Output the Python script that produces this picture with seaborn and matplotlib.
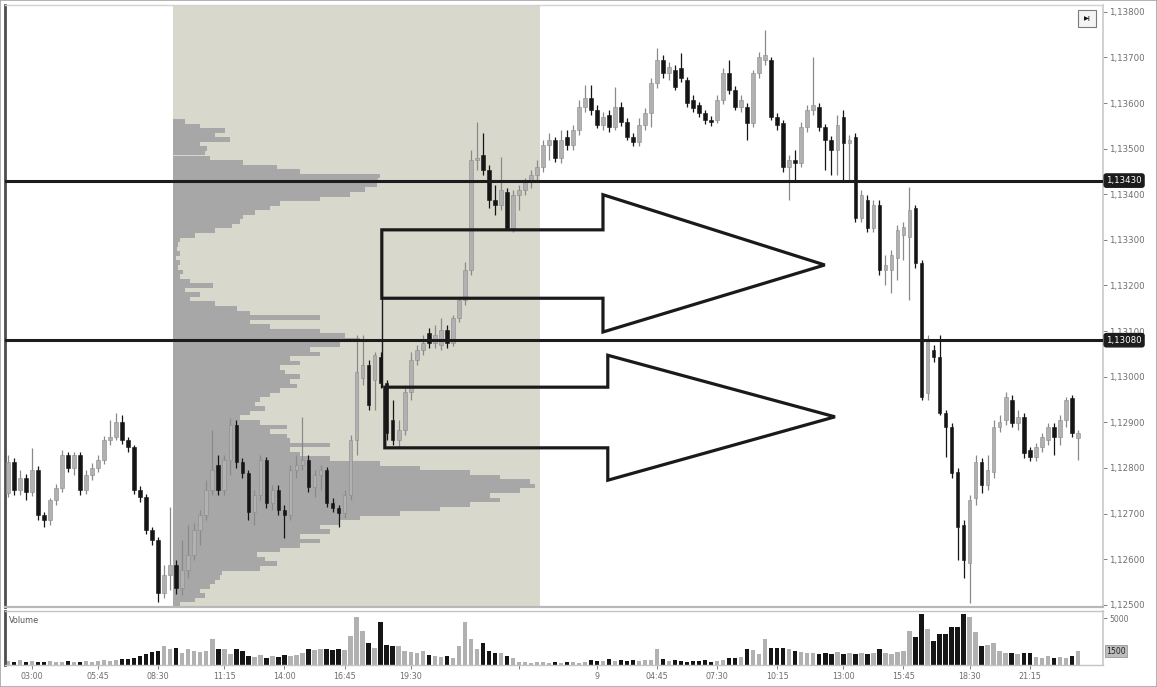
import numpy as np
import pandas as pd
import matplotlib
matplotlib.use("Agg")
import matplotlib.pyplot as plt
import matplotlib.transforms as mtransforms
from matplotlib.patches import Polygon, Rectangle
from matplotlib.ticker import FuncFormatter
import seaborn as sns

# ---------------------------------------------------------------- data
opens = [
    1.12745, 1.12813, 1.12751, 1.12778, 1.12747, 1.12795, 1.12697, 1.12686, 1.12730, 1.12756,
    1.12828, 1.12800, 1.12828, 1.12751, 1.12784, 1.12800, 1.12817, 1.12861, 1.12868, 1.12901,
    1.12861, 1.12846, 1.12751, 1.12736, 1.12664, 1.12642, 1.12526, 1.12565, 1.12587, 1.12537,
    1.12576, 1.12609, 1.12664, 1.12697, 1.12751, 1.12806, 1.12751, 1.12817, 1.12894, 1.12813,
    1.12789, 1.12703, 1.12740, 1.12817, 1.12723, 1.12751, 1.12708, 1.12697, 1.12795, 1.12806,
    1.12817, 1.12758, 1.12784, 1.12795, 1.12723, 1.12712, 1.12701, 1.12740, 1.12861, 1.12997,
    1.13026, 1.12993, 1.13043, 1.12986, 1.12905, 1.12861, 1.12883, 1.12966, 1.13037, 1.13058,
    1.13096, 1.13074, 1.13069, 1.13102, 1.13074, 1.13129, 1.13168, 1.13234, 1.13475, 1.13486,
    1.13453, 1.13387, 1.13376, 1.13405, 1.13326, 1.13398, 1.13409, 1.13427, 1.13442, 1.13460,
    1.13508, 1.13519, 1.13480, 1.13526, 1.13508, 1.13541, 1.13591, 1.13611, 1.13585, 1.13552,
    1.13574, 1.13548, 1.13591, 1.13558, 1.13526, 1.13515, 1.13552, 1.13578, 1.13644, 1.13694,
    1.13666, 1.13672, 1.13677, 1.13651, 1.13607, 1.13596, 1.13578, 1.13563,
    1.13563, 1.13607, 1.13666, 1.13629, 1.13591, 1.13591, 1.13556, 1.13666, 1.13694, 1.13694,
    1.13569, 1.13556, 1.13460, 1.13475,
    1.13469, 1.13548, 1.13585, 1.13591, 1.13548, 1.13519, 1.13497, 1.13569, 1.13512, 1.13526,
    1.13348, 1.13387, 1.13326, 1.13376, 1.13234,
    1.13234, 1.13260, 1.13311, 1.13306, 1.13370, 1.13249, 1.12964, 1.13058, 1.13043, 1.12920,
    1.12890, 1.12791, 1.12675, 1.12591, 1.12734, 1.12813, 1.12762, 1.12791, 1.12890, 1.12905,
    1.12949, 1.12898,
    1.12911, 1.12839, 1.12824, 1.12846, 1.12861, 1.12890, 1.12868, 1.12905, 1.12953, 1.12866,
]
closes = [
    1.12813, 1.12751, 1.12778, 1.12747, 1.12795, 1.12697, 1.12686, 1.12730, 1.12756, 1.12828,
    1.12800, 1.12828, 1.12751, 1.12784, 1.12800, 1.12817, 1.12861, 1.12868, 1.12901, 1.12861,
    1.12846, 1.12751, 1.12736, 1.12664, 1.12642, 1.12526, 1.12565, 1.12587, 1.12537, 1.12576,
    1.12609, 1.12664, 1.12697, 1.12751, 1.12795, 1.12751, 1.12817, 1.12894, 1.12813, 1.12789,
    1.12703, 1.12740, 1.12817, 1.12723, 1.12751, 1.12708, 1.12697, 1.12795, 1.12806, 1.12817,
    1.12758, 1.12784, 1.12795, 1.12723, 1.12712, 1.12701, 1.12740, 1.12861, 1.13010, 1.13026,
    1.12938, 1.13047, 1.12986, 1.12876, 1.12861, 1.12883, 1.12966, 1.13037, 1.13058, 1.13074,
    1.13074, 1.13091, 1.13102, 1.13074, 1.13129, 1.13168, 1.13234, 1.13475, 1.13480, 1.13453,
    1.13387, 1.13376, 1.13409, 1.13326, 1.13398, 1.13409, 1.13427, 1.13442, 1.13460, 1.13508,
    1.13519, 1.13480, 1.13519, 1.13508, 1.13541, 1.13591, 1.13611, 1.13585, 1.13552, 1.13569,
    1.13548, 1.13591, 1.13558, 1.13526, 1.13515, 1.13552, 1.13578, 1.13644, 1.13694, 1.13666,
    1.13679, 1.13635, 1.13655, 1.13600, 1.13589, 1.13578, 1.13563, 1.13558,
    1.13607, 1.13666, 1.13629, 1.13591, 1.13607, 1.13556, 1.13666, 1.13701, 1.13705, 1.13569,
    1.13552, 1.13460, 1.13475, 1.13469,
    1.13548, 1.13585, 1.13596, 1.13548, 1.13519, 1.13497, 1.13552, 1.13512, 1.13519, 1.13348,
    1.13398, 1.13326, 1.13376, 1.13234, 1.13245,
    1.13267, 1.13322, 1.13328, 1.13366, 1.13249, 1.12955, 1.13080, 1.13043, 1.12920, 1.12890,
    1.12789, 1.12670, 1.12598, 1.12730, 1.12813, 1.12762, 1.12795, 1.12890, 1.12901, 1.12955,
    1.12898, 1.12911,
    1.12833, 1.12824, 1.12846, 1.12868, 1.12890, 1.12868, 1.12905, 1.12949, 1.12876, 1.12876,
]
highs = [
    1.12828, 1.12822, 1.12795, 1.12787, 1.12844, 1.12804, 1.12703, 1.12734, 1.12765, 1.12839,
    1.12835, 1.12835, 1.12835, 1.12795, 1.12811, 1.12828, 1.12870, 1.12905, 1.12920, 1.12916,
    1.12868, 1.12850, 1.12760, 1.12743, 1.12670, 1.12648, 1.12587, 1.12714, 1.12598, 1.12642,
    1.12675, 1.12679, 1.12708, 1.12773, 1.12883, 1.12828, 1.12828, 1.12909, 1.12905, 1.12822,
    1.12795, 1.12751, 1.12828, 1.12824, 1.12762, 1.12762, 1.12719, 1.12806, 1.12828, 1.12911,
    1.12828, 1.12795, 1.12806, 1.12802, 1.12734, 1.12719, 1.12751, 1.12872, 1.13091, 1.13091,
    1.13037, 1.13054, 1.13054, 1.12993, 1.12949, 1.12905, 1.12982, 1.13054, 1.13069, 1.13091,
    1.13107, 1.13113, 1.13129, 1.13113, 1.13135, 1.13172, 1.13251, 1.13497, 1.13558, 1.13534,
    1.13464, 1.13420, 1.13482, 1.13414, 1.13409, 1.13420, 1.13436, 1.13453, 1.13475, 1.13519,
    1.13534, 1.13526, 1.13541, 1.13541, 1.13552, 1.13607, 1.13640, 1.13640, 1.13596, 1.13580,
    1.13585, 1.13635, 1.13602, 1.13567, 1.13534, 1.13567, 1.13589, 1.13655, 1.13721, 1.13705,
    1.13690, 1.13683, 1.13710, 1.13657, 1.13618, 1.13602, 1.13585, 1.13572,
    1.13618, 1.13677, 1.13694, 1.13637, 1.13618, 1.13600, 1.13672, 1.13712, 1.13760, 1.13701,
    1.13578, 1.13563, 1.13486, 1.13497,
    1.13558, 1.13596, 1.13701, 1.13600, 1.13554, 1.13528, 1.13574, 1.13585, 1.13530, 1.13534,
    1.13409, 1.13398, 1.13387, 1.13387, 1.13267,
    1.13278, 1.13333, 1.13339, 1.13416, 1.13376, 1.13256, 1.13091, 1.13069, 1.13091, 1.12927,
    1.12898, 1.12800, 1.12686, 1.12740, 1.12828, 1.12822, 1.12828, 1.12905, 1.12916, 1.12966,
    1.12960, 1.12927,
    1.12920, 1.12846, 1.12855, 1.12876, 1.12898, 1.12898, 1.12916, 1.12955, 1.12960, 1.12883,
]
lows = [
    1.12736, 1.12740, 1.12740, 1.12730, 1.12738, 1.12686, 1.12670, 1.12675, 1.12719, 1.12747,
    1.12791, 1.12784, 1.12740, 1.12743, 1.12773, 1.12791, 1.12808, 1.12850, 1.12861, 1.12852,
    1.12835, 1.12743, 1.12725, 1.12655, 1.12631, 1.12506, 1.12515, 1.12532, 1.12523, 1.12521,
    1.12558, 1.12598, 1.12631, 1.12686, 1.12740, 1.12740, 1.12740, 1.12784, 1.12800, 1.12778,
    1.12686, 1.12675, 1.12730, 1.12712, 1.12708, 1.12697, 1.12646, 1.12686, 1.12778, 1.12795,
    1.12747, 1.12736, 1.12751, 1.12714, 1.12703, 1.12670, 1.12690, 1.12730, 1.12828, 1.12982,
    1.12927, 1.12927, 1.12975, 1.12861, 1.12850, 1.12846, 1.12872, 1.12949, 1.13026, 1.13047,
    1.13063, 1.13063, 1.13058, 1.13063, 1.13067, 1.13120, 1.13157, 1.13223, 1.13453, 1.13442,
    1.13370, 1.13355, 1.13366, 1.13322, 1.13317, 1.13366, 1.13398, 1.13414, 1.13427, 1.13449,
    1.13475, 1.13471, 1.13469, 1.13497, 1.13497, 1.13530, 1.13580, 1.13574, 1.13545, 1.13541,
    1.13537, 1.13541, 1.13550, 1.13519, 1.13506, 1.13506, 1.13541, 1.13548, 1.13633, 1.13655,
    1.13651, 1.13629, 1.13646, 1.13591, 1.13580, 1.13569, 1.13554, 1.13550,
    1.13556, 1.13598, 1.13620, 1.13585, 1.13580, 1.13519, 1.13548, 1.13655, 1.13683, 1.13563,
    1.13541, 1.13449, 1.13387, 1.13431,
    1.13460, 1.13537, 1.13574, 1.13539, 1.13453, 1.13442, 1.13442, 1.13431, 1.13431, 1.13339,
    1.13339, 1.13317, 1.13317, 1.13223, 1.13201,
    1.13183, 1.13212, 1.13256, 1.13168, 1.13238, 1.12949, 1.12949, 1.13032, 1.12916, 1.12824,
    1.12778, 1.12598, 1.12558, 1.12504, 1.12719, 1.12745, 1.12751, 1.12778, 1.12879, 1.12894,
    1.12890, 1.12883,
    1.12822, 1.12815, 1.12815, 1.12835, 1.12850, 1.12828, 1.12850, 1.12890, 1.12868, 1.12817,
]
volumes = [
    400, 300, 500, 300, 400, 300, 300, 400, 300, 300, 400, 300, 300, 400, 300, 400, 500, 400, 500, 600,
    600, 800, 1000, 1200, 1400, 1500,
    2000, 1700, 1800, 1300, 1700, 1500, 1400, 1500, 2800, 1700, 1700, 1200, 1700, 1500,
    1000, 900, 1100, 800, 1000, 900, 1100, 1000, 1100, 1300,
    1700, 1600, 1700, 1700, 1600, 1700, 1600,
    3100, 5200, 3700, 2400, 1800, 4600, 2200, 2000, 2000,
    1500, 1400, 1300, 1500, 1100, 1000, 900, 1000, 800,
    2000, 4600, 2800, 1700, 2400, 1500, 1300, 1300, 1000, 800,
    300, 300, 200, 300, 300, 200, 300, 200, 300, 300, 200, 300,
    500, 400, 400, 600, 400, 500, 400, 500, 400, 500, 500,
    1700,
    600, 400, 500, 400, 300, 400, 400, 500, 300, 400, 500,
    800, 800, 900,
    1700, 1600, 1200,
    2800,
    1800, 1800, 1800, 1700,
    1500, 1400, 1300,
    1300, 1200, 1300, 1200, 1400, 1200, 1300, 1200, 1300, 1200, 1300,
    1700,
    1300, 1200, 1400, 1500,
    3700, 3000, 5500, 3900, 2600, 3300, 3300, 4100, 4100, 5500, 5200, 3500, 2000, 2200, 2400,
    1500,
    1300, 1300, 1200, 1300, 1300,
    900, 800, 1000, 700, 900, 800, 1000,
    1500,
]

# session volume profile: traded volume per 0.0001 price step, from 1.1250 upward
profile_low = 1.1250
profile_step = 0.0001
profile_volume = [
    7, 22, 32, 27, 37, 42, 47, 49, 87, 104,
    92, 84, 107, 127, 147, 127, 157, 147, 167, 187,
    227, 267, 297, 327, 317, 347, 362, 357, 327, 297,
    247, 207, 157, 127, 117, 157, 117, 114, 97, 114,
    87, 67, 77, 92, 82, 87, 97, 107, 124, 117,
    127, 112, 107, 127, 117, 147, 137, 167, 187, 172,
    147, 97, 77, 147, 77, 64, 42, 17, 27, 12,
    40, 17, 7, 10, 5, 7, 3, 7, 4, 5,
    7, 22, 42, 59, 67, 70, 82, 97, 107, 147,
    177, 192, 204, 205, 207, 127, 104, 70, 37, 32,
    34, 27, 57, 42, 52, 27, 12,
]

session_first, session_last = 28, 88          # bars of the highlighted session
key_levels = [1.13430, 1.13080]                 # horizontal levels

tick_bars = [4, 15, 25, 36, 46, 56, 67, 85, 98, 108, 118, 128, 139, 149, 160, 170]
tick_labels = ["03:00", "05:45", "08:30", "11:15", "14:00", "16:45", "19:30", "",
               "9", "04:45", "07:30", "10:15", "13:00", "15:45", "18:30", "21:15"]

price_ticks = [1.125 + 0.001 * k for k in range(14)]

# ---------------------------------------------------------------- style
sns.set_theme(style="white")
plt.rcParams["font.family"] = ["DejaVu Sans"]

UP_BODY, UP_EDGE = "#b1b1b1", "#8a8a8a"
DOWN = "#151515"
SHADE = "#d9d8cc"
PROFILE = "#a7a7a7"
TEXT = "#6e6e6e"

df = pd.DataFrame({"bar": np.arange(len(closes)), "open": opens, "high": highs,
                   "low": lows, "close": closes, "volume": volumes})
df["dir"] = np.where(df["close"] >= df["open"], "up", "down")

W, H = 1157, 687
fig = plt.figure(figsize=(W / 100, H / 100), dpi=100)
fig.patch.set_facecolor("white")
ax = fig.add_axes([5 / W, 1 - 607 / H, 1098 / W, 602 / H])
axv = fig.add_axes([5 / W, 1 - 665 / H, 1098 / W, 54 / H])

xlim = (-0.5, 182.2)

# ---------------------------------------------------------------- price panel
ax.axvspan(session_first - 0.5, session_last + 0.5, color=SHADE, lw=0, zorder=0)

levels = profile_low + profile_step * np.arange(len(profile_volume))
pv = np.asarray(profile_volume, dtype=float)
prof_len = (session_last - session_first + 1) - 0.8
ax.barh(levels, pv / pv.max() * prof_len, left=session_first - 0.5,
        height=profile_step, color=PROFILE, lw=0, zorder=1)

for d_, body, edge, wick in [(df[df["dir"] == "up"], UP_BODY, UP_EDGE, UP_EDGE),
                             (df[df["dir"] == "down"], DOWN, DOWN, DOWN)]:
    ax.vlines(d_["bar"], d_["low"], d_["high"], color=wick, lw=0.9, zorder=3)
    h = (d_["close"] - d_["open"]).abs().clip(lower=0.00002)
    ax.bar(d_["bar"], h, bottom=np.minimum(d_["open"], d_["close"]), width=0.62,
           color=body, edgecolor=edge, lw=0.4, zorder=4)

# outlined arrows pointing to the right of the session
def draw_arrow(x0, x_neck, x_tip, y_top, y_bot, head_top, head_bot, y_tip):
    pts = [(x0, y_top), (x_neck, y_top), (x_neck, head_top), (x_tip, y_tip),
           (x_neck, head_bot), (x_neck, y_bot), (x0, y_bot)]
    ax.add_patch(Polygon(pts, closed=True, fill=False, ec="#1a1a1a", lw=2.3,
                         joinstyle="miter", zorder=5))

draw_arrow(62.2, 99.0, 135.9, 1.13322, 1.13172, 1.13399, 1.13098, 1.13245)
draw_arrow(62.7, 99.8, 137.6, 1.12977, 1.12844, 1.13047, 1.12773, 1.12912)
ax.plot([62.2, 62.2], [1.13172, 1.12977], color="#1a1a1a", lw=1.0, zorder=5)

blend = mtransforms.blended_transform_factory(ax.transAxes, ax.transData)
for lv in key_levels:
    ax.axhline(lv, color="#1c1c1c", lw=2.2, zorder=6)
    ax.text(1.003, lv, f"{lv:.5f}".replace(".", ","), transform=blend,
            ha="left", va="center", fontsize=6.2, color="white", clip_on=False,
            bbox=dict(boxstyle="round,pad=0.25", fc="#1c1c1c", ec="#1c1c1c"), zorder=7)

ax.set_xlim(*xlim)
ax.set_ylim(1.12495, 1.13815)
ax.yaxis.tick_right()
ax.set_yticks(price_ticks)
ax.yaxis.set_major_formatter(FuncFormatter(lambda v, p: f"{v:.5f}".replace(".", ",")))
ax.tick_params(axis="y", right=True, labelsize=6.2, colors=TEXT, length=3, width=0.6,
               pad=1.5, direction="out")
ax.tick_params(axis="x", bottom=False, labelbottom=False)
for side, col, lw in [("left", "#4d4d4d", 2.0), ("right", "#c9c9c9", 1.2),
                      ("top", "#d2d2d2", 1.0), ("bottom", "#b8b8b8", 1.6)]:
    ax.spines[side].set_color(col)
    ax.spines[side].set_linewidth(lw)

# small control box in the top right corner
ax.add_patch(Rectangle((0.9775, 0.963), 0.0165, 0.029, transform=ax.transAxes,
                       fc="#f4f4f4", ec="#7a7a7a", lw=0.8, zorder=8, clip_on=False))
ax.text(0.9857, 0.9775, "\u25b6|", transform=ax.transAxes, ha="center", va="center",
        fontsize=4.5, color="#111111", zorder=9, fontweight="bold")

# ---------------------------------------------------------------- volume panel
sns.barplot(data=df, x="bar", y="volume", hue="dir",
            palette={"up": UP_BODY, "down": DOWN}, native_scale=True, dodge=False,
            width=0.72, saturation=1, linewidth=0, legend=False, ax=axv)
axv.set_xlabel("")
axv.set_ylabel("")
axv.set_xlim(*xlim)
axv.set_ylim(0, 5800)
axv.set_xticks(tick_bars)
axv.set_xticklabels(tick_labels)
axv.tick_params(axis="x", bottom=True, labelsize=5.8, colors=TEXT, length=3, width=0.6,
                pad=2, direction="out")
axv.yaxis.tick_right()
axv.set_yticks([5000])
axv.set_yticklabels(["5000"])
axv.tick_params(axis="y", right=True, labelsize=5.6, colors=TEXT, length=3, width=0.6, pad=1.5)
vblend = mtransforms.blended_transform_factory(axv.transAxes, axv.transData)
axv.text(1.003, volumes[-1], f"{volumes[-1]}", transform=vblend, ha="left", va="center",
         fontsize=5.6, color="#222222", clip_on=False,
         bbox=dict(boxstyle="square,pad=0.2", fc="#bdbdbd", ec="#8a8a8a", lw=0.5))
axv.text(0.004, 0.82, "Volume", transform=axv.transAxes, fontsize=5.8, color="#555555",
         ha="left", va="center")
for side, col, lw in [("left", "#4d4d4d", 2.0), ("right", "#c9c9c9", 1.2),
                      ("top", "#c4c4c4", 1.0), ("bottom", "#c4c4c4", 1.0)]:
    axv.spines[side].set_color(col)
    axv.spines[side].set_linewidth(lw)

fig.patches.append(Rectangle((0, 0), 1, 1, transform=fig.transFigure, fill=False,
                             ec="#a5a5a5", lw=1.2))

fig.savefig("out.png", dpi=100, facecolor="white")
